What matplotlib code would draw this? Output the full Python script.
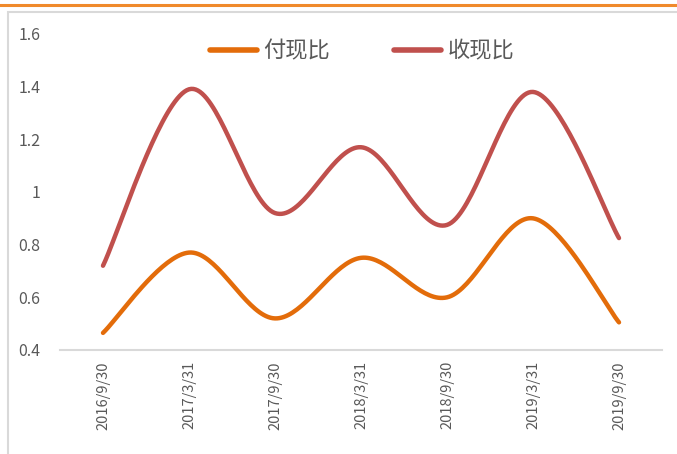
import numpy as np
import matplotlib
matplotlib.use("Agg")
import matplotlib.pyplot as plt
from matplotlib.patches import Rectangle
from matplotlib.lines import Line2D

plt.rcParams['font.family'] = ['Noto Sans CJK SC', 'DejaVu Sans']

categories = ["2016/9/30", "2017/3/31", "2017/9/30", "2018/3/31",
              "2018/9/30", "2019/3/31", "2019/9/30"]
pay_ratio = [0.465, 0.77, 0.52, 0.75, 0.60, 0.90, 0.505]      # 付现比
recv_ratio = [0.72, 1.39, 0.92, 1.17, 0.875, 1.38, 0.825]     # 收现比
series_names = ["付现比", "收现比"]
yticks = [0.4, 0.6, 0.8, 1.0, 1.2, 1.4, 1.6]
ytick_labels = ["0.4", "0.6", "0.8", "1", "1.2", "1.4", "1.6"]

colors = ["#E36C0A", "#C0504D"]


def smooth(xs, ys, n=40):
    """Excel-like smoothed line: cubic Bezier with Catmull-Rom control points."""
    xs = np.asarray(xs, float)
    ys = np.asarray(ys, float)
    px, py = [], []
    m = len(xs)
    for i in range(m - 1):
        x0, y0 = xs[max(i - 1, 0)], ys[max(i - 1, 0)]
        x1, y1 = xs[i], ys[i]
        x2, y2 = xs[i + 1], ys[i + 1]
        x3, y3 = xs[min(i + 2, m - 1)], ys[min(i + 2, m - 1)]
        c1x, c1y = x1 + (x2 - x0) / 6, y1 + (y2 - y0) / 6
        c2x, c2y = x2 - (x3 - x1) / 6, y2 - (y3 - y1) / 6
        t = np.linspace(0, 1, n)
        bx = (1 - t) ** 3 * x1 + 3 * (1 - t) ** 2 * t * c1x + 3 * (1 - t) * t ** 2 * c2x + t ** 3 * x2
        by = (1 - t) ** 3 * y1 + 3 * (1 - t) ** 2 * t * c1y + 3 * (1 - t) * t ** 2 * c2y + t ** 3 * y2
        px.extend(bx)
        py.extend(by)
    return np.array(px), np.array(py)


fig = plt.figure(figsize=(6.77, 4.54), dpi=100)

# decorative frame and top orange rule
fig.add_artist(Line2D([0, 1], [1 - 5 / 454, 1 - 5 / 454], color="#F08A2C", lw=2.2,
                      transform=fig.transFigure))
fig.add_artist(Rectangle((8 / 677, -0.05), 1.0, 1 - 12 / 454 + 0.05, fill=False,
                         edgecolor="#D9D9D9", lw=1.5, transform=fig.transFigure))

ax = fig.add_axes([60 / 677, 1 - 350 / 454, 602 / 677, 316 / 454])
x = np.arange(len(categories))
for vals, c, name in zip([pay_ratio, recv_ratio], colors, series_names):
    sx, sy = smooth(x, vals)
    ax.plot(sx, sy, color=c, lw=3.2, solid_capstyle="round", label=name)

ax.set_xlim(-0.5, len(categories) - 0.5)
ax.set_ylim(0.4, 1.6)
ax.set_yticks(yticks)
ax.set_yticklabels(ytick_labels)
ax.set_xticks(x)
ax.set_xticklabels(categories, rotation=90)
for s in ["top", "right", "left"]:
    ax.spines[s].set_visible(False)
ax.spines["bottom"].set_color("#D9D9D9")
ax.spines["bottom"].set_linewidth(1.5)
ax.tick_params(axis="both", length=0, colors="#595959")
ax.tick_params(axis="y", pad=14, labelsize=11.5)
ax.tick_params(axis="x", pad=8, labelsize=10.5)
for lbl in ax.get_yticklabels():
    lbl.set_horizontalalignment("right")

leg = ax.legend(loc="upper center", bbox_to_anchor=(0.502, 1.045), ncol=2, frameon=False,
                fontsize=16, handlelength=2.1, columnspacing=2.9, handletextpad=0.3,
                labelcolor="#595959")
for h in leg.get_lines():
    h.set_linewidth(4)

fig.savefig("out.png", dpi=100)
